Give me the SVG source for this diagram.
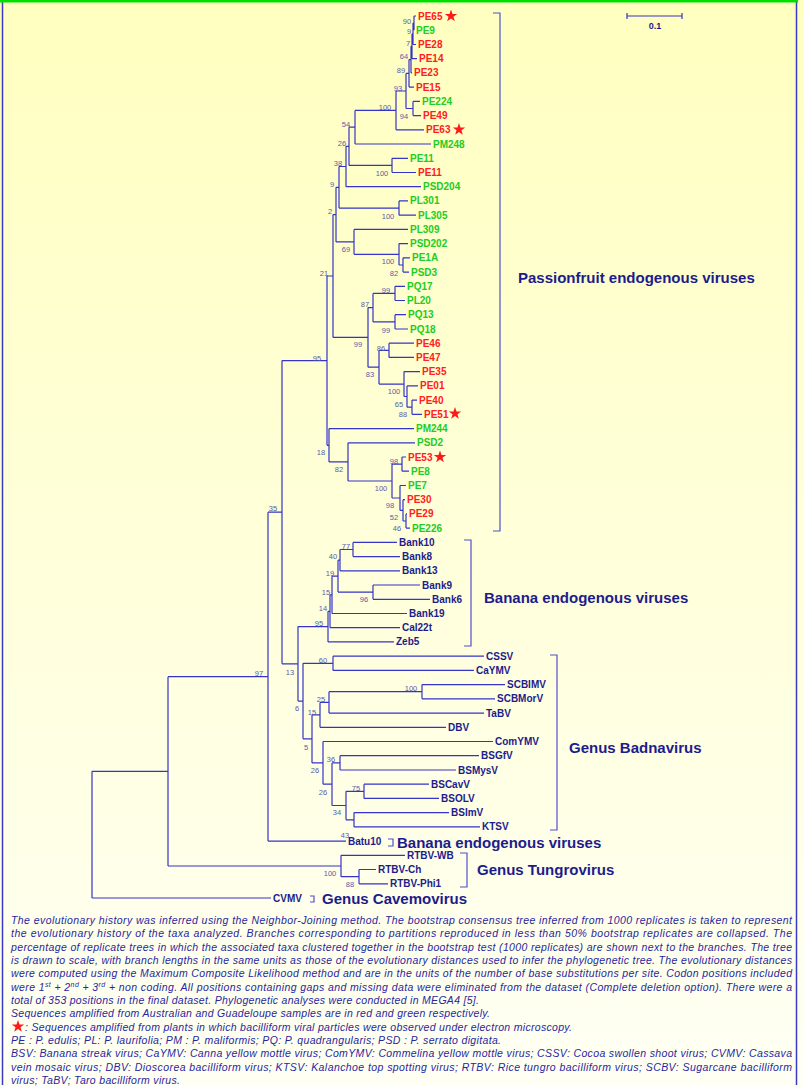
<svg xmlns="http://www.w3.org/2000/svg" width="804" height="1086" viewBox="0 0 804 1086">
<defs>
<linearGradient id="bg" x1="0" y1="0" x2="0" y2="1">
<stop offset="0" stop-color="#ffffc0"/>
<stop offset="1" stop-color="#fffff4"/>
</linearGradient>
<polygon id="star" points="0,-6.5 1.53,-2.1 6.18,-2 2.47,0.8 3.82,5.26 0,2.6 -3.82,5.26 -2.47,0.8 -6.18,-2 -1.53,-2.1" fill="#ff1a1a"/>
<style>
text{font-family:"Liberation Sans",Arial,sans-serif}
.lf{font-size:10px;font-weight:bold}
.r{fill:#ff2020}
.g{fill:#22cc22}
.n{fill:#1c1c8c}
.bs{font-size:7.5px;fill:#5a5aa8;text-anchor:middle}
.grp{font-size:15px;font-weight:bold;fill:#1c1c8c}
.cap{font-size:10.5px;font-style:italic;fill:#2626a0}
.br{fill:none;stroke:#3434c8;stroke-width:1.2}
.bk{fill:none;stroke:#5050cc;stroke-width:1.2}
</style>
</defs>
<rect x="0" y="0" width="804" height="1086" fill="url(#bg)"/>
<path d="M2.5 2V1085 M796.5 2V1085" stroke="#3a3ac8" stroke-width="1.5" fill="none"/>
<rect x="0" y="0" width="798" height="2.5" fill="#00e000"/>

<g id="connectors" class="br">
<path d="M414 16V30.2M414 16H416 M413 23.1V44.5M413 23.1H414M413 44.5H416 M412 33.8V58.7M412 33.8H413M412 58.7H417 M411 46.3V72.9M411 46.3H412M411 72.9H412 M409 59.6V87.1M409 59.6H411M409 87.1H414 M413 101.4V115.6M413 101.4H420M413 115.6H421 M406 73.4V108.5M406 73.4H409M406 108.5H413 M396 91V129.8M396 91H406M396 129.8H424 M355 110.4V144M355 110.4H396M355 144H431 M392 158.3V172.5M392 158.3H408M392 172.5H416 M349 127.2V165.4M349 127.2H355M349 165.4H392 M346 146.3V186.7M346 146.3H349M346 186.7H421 M399 200.9V215.2M399 200.9H408M399 215.2H416 M339 166.5V208.1M339 166.5H346M339 208.1H399 M403 257.8V272.1M403 257.8H410M403 272.1H409 M399 243.6V265M399 243.6H408M399 265H403 M354 229.4V254.3M354 229.4H408M354 254.3H399 M336 187.3V241.9M336 187.3H339M336 241.9H354"/>
<path d="M395 286.3V300.5M395 286.3H405M395 300.5H405 M395 314.7V329M395 314.7H406M395 329H408 M373 293.4V321.9M373 293.4H395M373 321.9H395 M389 343.2V357.4M389 343.2H414M389 357.4H414 M412 400.1V414.3M412 400.1H417M412 414.3H422 M407 385.9V407.2M407 385.9H418M407 407.2H412 M404 371.6V396.5M404 371.6H420M404 396.5H407 M379 350.3V384.1M379 350.3H389M379 384.1H404 M368 307.6V367.2M368 307.6H373M368 367.2H379 M333 214.6V337.4M333 214.6H336M333 337.4H368"/>
<path d="M402 457V471.2M402 457H406M402 471.2H409 M406 513.9V528.1M406 513.9H407M406 528.1H410 M403 499.7V521M403 499.7H405M403 521H406 M400 485.5V510.4M400 485.5H406M400 510.4H403 M392 464.1V498M392 464.1H402M392 498H400 M348 442.8V481M348 442.8H415M348 481H392 M329 428.6V461.9M329 428.6H414M329 461.9H348 M327 276V445.3M327 276H333M327 445.3H329"/>
<path d="M353 542.4V556.6M353 542.4H397M353 556.6H400 M340 549.5V570.8M340 549.5H353M340 570.8H400 M373 585V599.3M373 585H420M373 599.3H430 M338 560.2V592.1M338 560.2H340M338 592.1H373 M332 576.2V613.5M332 576.2H338M332 613.5H407 M330 594.8V627.7M330 594.8H332M330 627.7H400 M328 611.3V641.9M328 611.3H330M328 641.9H394"/>
<path d="M333 656.2V670.4M333 656.2H484M333 670.4H474 M422 684.6V698.8M422 684.6H505M422 698.8H495 M329 691.7V713.1M329 691.7H422M329 713.1H484 M320 702.4V727.3M320 702.4H329M320 727.3H446 M340 755.7V770M340 755.7H479M340 770H456 M364 784.2V798.4M364 784.2H429M364 798.4H439 M354 812.6V826.9M354 812.6H449M354 826.9H480 M346 791.3V819.8M346 791.3H364M346 819.8H354 M332 762.9V805.5M332 762.9H340M332 805.5H346 M323 741.5V784.2M323 741.5H493M323 784.2H332 M312 714.8V762.9M312 714.8H320M312 762.9H323 M303 663.3V738.8M303 663.3H333M303 738.8H312 M298 626.6V701.1M298 626.6H328M298 701.1H303"/>
<path d="M282 360.6V663.8M282 360.6H327M282 663.8H298 M268 512.2V841.1M268 512.2H282M268 841.1H346 M359 869.5V883.8M359 869.5H376M359 883.8H388 M341 855.3V876.7M341 855.3H405M341 876.7H359 M168 676.7V866M168 676.7H268M168 866H341 M92 771.3V898M92 771.3H168M92 898H271"/>
</g>

<g id="leaves" class="lf">
<g id="n-PE65"><text class="r" x="418" y="19.5">PE65</text><use href="#star" x="451" y="16"/></g>
<g id="n-PE9"><text class="g" x="416" y="33.7">PE9</text></g>
<g id="n-PE28"><text class="r" x="418" y="48">PE28</text></g>
<g id="n-PE14"><text class="r" x="419" y="62.2">PE14</text></g>
<g id="n-PE23"><text class="r" x="414" y="76.4">PE23</text></g>
<g id="n-PE15"><text class="r" x="416" y="90.6">PE15</text></g>
<g id="n-PE224"><text class="g" x="422" y="104.9">PE224</text></g>
<g id="n-PE49"><text class="r" x="423" y="119.1">PE49</text></g>
<g id="n-PE63"><text class="r" x="426" y="133.3">PE63</text><use href="#star" x="459" y="129.5"/></g>
<g id="n-PM248"><text class="g" x="433" y="147.5">PM248</text></g>
<g id="n-PE11g"><text class="g" x="410" y="161.8">PE11</text></g>
<g id="n-PE11r"><text class="r" x="418" y="176">PE11</text></g>
<g id="n-PSD204"><text class="g" x="423" y="190.2">PSD204</text></g>
<g id="n-PL301"><text class="g" x="410" y="204.4">PL301</text></g>
<g id="n-PL305"><text class="g" x="418" y="218.7">PL305</text></g>
<g id="n-PL309"><text class="g" x="410" y="232.9">PL309</text></g>
<g id="n-PSD202"><text class="g" x="410" y="247.1">PSD202</text></g>
<g id="n-PE1A"><text class="g" x="412" y="261.3">PE1A</text></g>
<g id="n-PSD3"><text class="g" x="411" y="275.6">PSD3</text></g>
<g id="n-PQ17"><text class="g" x="407" y="289.8">PQ17</text></g>
<g id="n-PL20"><text class="g" x="407" y="304">PL20</text></g>
<g id="n-PQ13"><text class="g" x="408" y="318.2">PQ13</text></g>
<g id="n-PQ18"><text class="g" x="410" y="332.5">PQ18</text></g>
<g id="n-PE46"><text class="r" x="416" y="346.7">PE46</text></g>
<g id="n-PE47"><text class="r" x="416" y="360.9">PE47</text></g>
<g id="n-PE35"><text class="r" x="422" y="375.1">PE35</text></g>
<g id="n-PE01"><text class="r" x="420" y="389.4">PE01</text></g>
<g id="n-PE40"><text class="r" x="419" y="403.6">PE40</text></g>
<g id="n-PE51"><text class="r" x="424" y="417.8">PE51</text><use href="#star" x="455" y="413.5"/></g>
<g id="n-PM244"><text class="g" x="416" y="432.1">PM244</text></g>
<g id="n-PSD2"><text class="g" x="417" y="446.3">PSD2</text></g>
<g id="n-PE53"><text class="r" x="408" y="460.5">PE53</text><use href="#star" x="440" y="457"/></g>
<g id="n-PE8"><text class="g" x="411" y="474.7">PE8</text></g>
<g id="n-PE7"><text class="g" x="408" y="489">PE7</text></g>
<g id="n-PE30"><text class="r" x="407" y="503.2">PE30</text></g>
<g id="n-PE29"><text class="r" x="409" y="517.4">PE29</text></g>
<g id="n-PE226"><text class="g" x="412" y="531.6">PE226</text></g>
<g id="n-Bank10"><text class="n" x="399" y="545.9">Bank10</text></g>
<g id="n-Bank8"><text class="n" x="402" y="560.1">Bank8</text></g>
<g id="n-Bank13"><text class="n" x="402" y="574.3">Bank13</text></g>
<g id="n-Bank9"><text class="n" x="422" y="588.5">Bank9</text></g>
<g id="n-Bank6"><text class="n" x="432" y="602.8">Bank6</text></g>
<g id="n-Bank19"><text class="n" x="409" y="617">Bank19</text></g>
<g id="n-Cal22t"><text class="n" x="402" y="631.2">Cal22t</text></g>
<g id="n-Zeb5"><text class="n" x="396" y="645.4">Zeb5</text></g>
<g id="n-CSSV"><text class="n" x="486" y="659.7">CSSV</text></g>
<g id="n-CaYMV"><text class="n" x="476" y="673.9">CaYMV</text></g>
<g id="n-SCBIMV"><text class="n" x="507" y="688.1">SCBIMV</text></g>
<g id="n-SCBMorV"><text class="n" x="497" y="702.3">SCBMorV</text></g>
<g id="n-TaBV"><text class="n" x="486" y="716.6">TaBV</text></g>
<g id="n-DBV"><text class="n" x="448" y="730.8">DBV</text></g>
<g id="n-ComYMV"><text class="n" x="495" y="745">ComYMV</text></g>
<g id="n-BSGfV"><text class="n" x="481" y="759.2">BSGfV</text></g>
<g id="n-BSMysV"><text class="n" x="458" y="773.5">BSMysV</text></g>
<g id="n-BSCavV"><text class="n" x="431" y="787.7">BSCavV</text></g>
<g id="n-BSOLV"><text class="n" x="441" y="801.9">BSOLV</text></g>
<g id="n-BSImV"><text class="n" x="451" y="816.1">BSImV</text></g>
<g id="n-KTSV"><text class="n" x="482" y="830.4">KTSV</text></g>
<g id="n-Batu10"><text class="n" x="348" y="844.6">Batu10</text></g>
<g id="n-RTBV-WB"><text class="n" x="407" y="858.8">RTBV-WB</text></g>
<g id="n-RTBV-Ch"><text class="n" x="378" y="873">RTBV-Ch</text></g>
<g id="n-RTBV-Phi1"><text class="n" x="390" y="887.3">RTBV-Phi1</text></g>
<g id="n-CVMV"><text class="n" x="273" y="901.5">CVMV</text></g>
</g>

<g id="bootstrap" class="bs">
<text x="407" y="23.7">90</text><text x="409" y="33.7">9</text><text x="408" y="45.7">7</text><text x="404" y="58.7">64</text><text x="401" y="72.7">89</text><text x="398" y="90.7">93</text><text x="385" y="109.7">100</text><text x="404" y="118.7">94</text><text x="346" y="126.7">54</text><text x="342" y="145.7">26</text><text x="338" y="165.7">38</text><text x="382" y="175.7">100</text><text x="332" y="186.7">9</text><text x="330" y="213.7">2</text><text x="388" y="218.7">100</text><text x="346" y="251.7">69</text><text x="388" y="263.7">100</text><text x="394" y="275.7">82</text><text x="324" y="275.7">21</text>
<text x="386" y="292.7">99</text><text x="365" y="306.7">87</text><text x="386" y="332.7">99</text><text x="358" y="346.7">99</text><text x="381" y="350.7">86</text><text x="317" y="360.7">95</text><text x="370" y="376.7">83</text><text x="394" y="393.7">100</text><text x="399" y="406.7">65</text><text x="403" y="416.7">88</text>
<text x="321" y="454.7">18</text><text x="394" y="463.7">98</text><text x="339" y="471.7">82</text><text x="381" y="490.7">100</text><text x="390" y="507.7">98</text><text x="394" y="519.7">52</text><text x="397" y="530.7">46</text><text x="273" y="510.7">35</text>
<text x="346" y="548.7">77</text><text x="333" y="558.7">40</text><text x="330" y="575.7">19</text><text x="326" y="594.7">15</text><text x="364" y="601.7">96</text><text x="323" y="610.7">14</text><text x="319" y="625.7">95</text>
<text x="259" y="675.7">97</text><text x="290" y="674.7">13</text><text x="323" y="662.7">60</text><text x="411" y="690.7">100</text><text x="321" y="701.7">25</text><text x="297" y="710.7">6</text><text x="312" y="714.7">15</text><text x="306" y="749.7">5</text><text x="331" y="761.7">36</text><text x="315" y="772.7">26</text><text x="356" y="790.7">75</text><text x="323" y="794.7">26</text><text x="337" y="814.7">34</text><text x="345" y="837.7">43</text>
<text x="330" y="875.7">100</text><text x="350" y="886.7">88</text>
</g>

<g id="groups">
<g id="grp-passion"><path class="bk" d="M493 13H500V531H493"/><text class="grp" x="518" y="283.4">Passionfruit endogenous viruses</text></g>
<g id="grp-banana"><path class="bk" d="M464 540H471V646H464"/><text class="grp" x="484" y="603.4">Banana endogenous viruses</text></g>
<g id="grp-badna"><path class="bk" d="M550 655H557V830H550"/><text class="grp" x="569" y="753.4">Genus Badnavirus</text></g>
<g id="grp-batu"><path class="bk" d="M388 839H393V846H388"/><text class="grp" x="397" y="848.4">Banana endogenous viruses</text></g>
<g id="grp-tungro"><path class="bk" d="M460 853H467V887H460"/><text class="grp" x="477" y="875.4">Genus Tungrovirus</text></g>
<g id="grp-cavemo"><path class="bk" d="M310 896H314V902H310"/><text class="grp" x="322" y="904.4">Genus Cavemovirus</text></g>
</g>

<g id="scale">
<path class="br" d="M627 16H682M627 13V19M682 13V19"/>
<text x="655" y="29" font-size="9" font-weight="bold" fill="#1c1c8c" text-anchor="middle">0.1</text>
</g>

<g id="caption" class="cap">
<text x="11" y="924" textLength="781">The evolutionary history was inferred using the Neighbor-Joining method. The bootstrap consensus tree inferred from 1000 replicates is taken to represent</text>
<text x="11" y="937.3" textLength="781">the evolutionary history of the taxa analyzed. Branches corresponding to partitions reproduced in less than 50% bootstrap replicates are collapsed. The</text>
<text x="11" y="950.7" textLength="781">percentage of replicate trees in which the associated taxa clustered together in the bootstrap test (1000 replicates) are shown next to the branches. The tree</text>
<text x="11" y="964" textLength="781">is drawn to scale, with branch lengths in the same units as those of the evolutionary distances used to infer the phylogenetic tree. The evolutionary distances</text>
<text x="11" y="977.3" textLength="781">were computed using the Maximum Composite Likelihood method and are in the units of the number of base substitutions per site. Codon positions included</text>
<text x="11" y="990.7" textLength="781">were 1<tspan dy="-3.5" font-size="7">st</tspan><tspan dy="3.5"> + 2</tspan><tspan dy="-3.5" font-size="7">nd</tspan><tspan dy="3.5"> + 3</tspan><tspan dy="-3.5" font-size="7">rd</tspan><tspan dy="3.5"> + non coding. All positions containing gaps and missing data were eliminated from the dataset (Complete deletion option). There were a</tspan></text>
<text x="11" y="1004" textLength="468">total of 353 positions in the final dataset. Phylogenetic analyses were conducted in MEGA4 [5].</text>
<text x="11" y="1017.3" textLength="479">Sequences amplified from Australian and Guadeloupe samples are in red and green respectively.</text>
<use href="#star" x="18" y="1026.5"/>
<text x="25" y="1030.7" textLength="547">: Sequences amplified from plants in which bacilliform viral particles were observed under electron microscopy.</text>
<text x="11" y="1044" textLength="490">PE : P. edulis; PL: P. laurifolia; PM : P. maliformis; PQ: P. quadrangularis; PSD : P. serrato digitata.</text>
<text x="11" y="1057.3" textLength="781">BSV: Banana streak virus; CaYMV: Canna yellow mottle virus; ComYMV: Commelina yellow mottle virus; CSSV: Cocoa swollen shoot virus; CVMV: Cassava</text>
<text x="11" y="1070.7" textLength="781">vein mosaic virus; DBV: Dioscorea bacilliform virus; KTSV: Kalanchoe top spotting virus; RTBV: Rice tungro bacilliform virus; SCBV: Sugarcane bacilliform</text>
<text x="11" y="1084" textLength="169">virus; TaBV; Taro bacilliform virus.</text>
</g>
</svg>
